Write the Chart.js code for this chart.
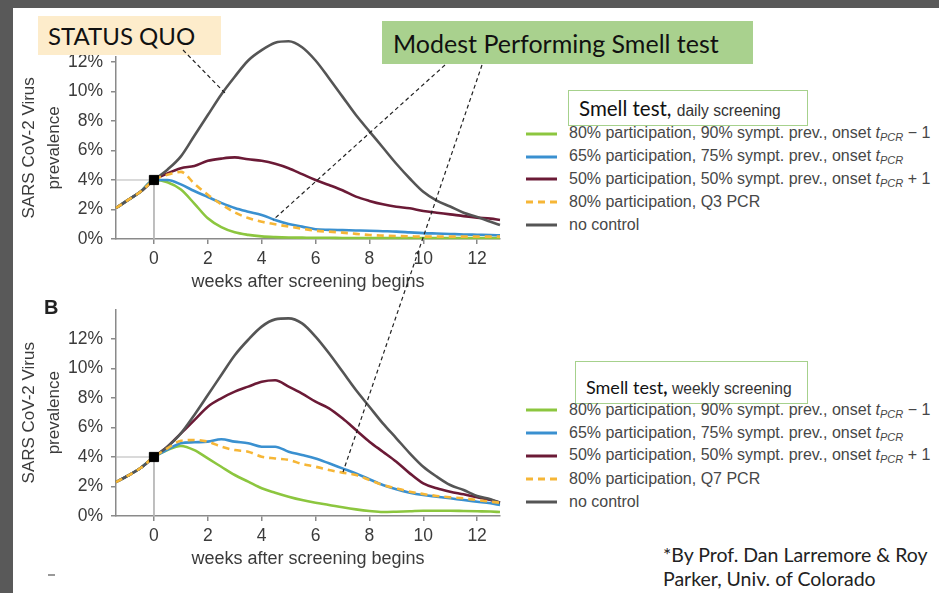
<!DOCTYPE html>
<html>
<head>
<meta charset="utf-8">
<script src="https://cdn.jsdelivr.net/npm/chart.js@4.4.0/dist/chart.umd.min.js"></script>
<style>
  body { margin: 0; width: 939px; height: 593px; position: relative; overflow: hidden; background: #fff; font-family: "Liberation Sans", Arial, sans-serif; }
  .frame { position: absolute; background: #595959; z-index: 20; }
  canvas { position: absolute; left: 0; }
  .box { position: absolute; box-sizing: border-box; display: flex; align-items: center; font-family: Lato, sans-serif; color: #111; z-index: 5; }
  .legend { position: absolute; z-index: 5; color: #474747; font-size: 16px; }
  .legend .row { height: 22.8px; display: flex; align-items: center; white-space: nowrap; }
  .legend svg { margin-right: 12px; flex: none; }
  .legend sub { font-size: 11px; vertical-align: -3px; }
  .smell { font-family: Lato, sans-serif; color: #111; }
  .smell small { font-family: "Liberation Sans", Arial, sans-serif; font-size: 15.6px; color: #333; }
  #notes { position: absolute; left: 0; top: 0; z-index: 10; pointer-events: none; }
</style>
</head>
<body>
<div class="frame" style="left:0;top:0;width:939px;height:8px"></div>
<div class="frame" style="left:0;top:0;width:13px;height:593px"></div>

<canvas id="chartA" width="520" height="300" style="top:0"></canvas>
<canvas id="chartB" width="520" height="300" style="top:277px"></canvas>

<div style="position:absolute;left:44px;top:296px;font-weight:bold;font-size:20px;color:#222">B</div>
<div style="position:absolute;left:48px;top:574px;width:7px;height:2px;background:#999"></div>

<div class="box" style="left:38px;top:16px;width:183px;height:39px;background:#fdeccb;padding-left:10px;font-size:24px">STATUS QUO</div>
<div class="box" style="left:382px;top:21px;width:371px;height:43px;background:#a9d18e;padding-left:11px;font-size:25px">Modest Performing Smell test</div>

<div class="box" style="left:568px;top:90px;width:240px;height:36px;border:1.5px solid #a6d18c;background:#fff;padding-left:10px">
  <span class="smell" style="font-size:20.5px">Smell test, <small>daily screening</small></span></div>
<div class="box" style="left:575px;top:361px;width:233px;height:43px;border:1.5px solid #a6d18c;background:#fff;padding-left:10px;padding-top:8px">
  <span class="smell" style="font-size:18px">Smell test<b>,</b> <small>weekly screening</small></span></div>

<div class="legend" id="legendA" style="left:526px;top:122.5px"></div>
<div class="legend" id="legendB" style="left:526px;top:399px"></div>

<div style="position:absolute;left:663px;top:543px;font-family:Lato,sans-serif;font-size:19.5px;line-height:24px;color:#222">*By Prof. Dan Larremore &amp; Roy<br>Parker, Univ. of Colorado</div>

<svg id="notes" width="939" height="593">
  <g stroke="#222" stroke-width="1.2" stroke-dasharray="4 3" fill="none">
    <line x1="183" y1="50" x2="225" y2="93"/>
    <line x1="445" y1="65" x2="273" y2="220"/>
    <line x1="482" y1="65" x2="343" y2="472"/>
  </g>
</svg>

<script>
// weeks after screening begins
const weeks = [-1.41, -1, -0.5, 0, 0.5, 1, 1.5, 2, 2.5, 3, 3.5, 4, 4.5, 5, 5.5, 6, 6.5, 7, 7.5, 8,
               8.5, 9, 9.5, 10, 10.5, 11, 11.5, 12, 12.5, 12.85];
const xTicks = [0, 2, 4, 6, 8, 10, 12];
const yTicks = [0, 2, 4, 6, 8, 10, 12];
const startPoint = { x: 0, y: 4 };

// A - daily screening (prevalence %)
const dailyGreen  = [2.1, 2.6, 3.2, 4.0, 3.85, 3.35, 2.4, 1.4, 0.8, 0.45, 0.28, 0.18, 0.13, 0.1, 0.09, 0.08, 0.08, 0.07, 0.07, 0.07,
                     0.07, 0.07, 0.07, 0.07, 0.07, 0.07, 0.07, 0.07, 0.07, 0.07];
const dailyBlue   = [2.1, 2.6, 3.2, 4.0, 4.0, 3.7, 3.25, 2.85, 2.45, 2.1, 1.85, 1.63, 1.29, 1.02, 0.84, 0.66, 0.62, 0.6, 0.58, 0.56,
                     0.53, 0.5, 0.45, 0.4, 0.37, 0.34, 0.31, 0.29, 0.27, 0.25];
const dailyMaroon = [2.1, 2.6, 3.2, 4.0, 4.45, 4.8, 4.95, 5.3, 5.45, 5.53, 5.4, 5.3, 5.1, 4.8, 4.4, 4.0, 3.66, 3.3, 2.87, 2.58,
                     2.35, 2.19, 2.08, 1.9, 1.78, 1.67, 1.55, 1.45, 1.38, 1.29];
const dailyQ3     = [2.1, 2.6, 3.2, 4.0, 4.35, 4.55, 3.75, 3.0, 2.35, 1.8, 1.42, 1.17, 1.0, 0.84, 0.7, 0.56, 0.5, 0.43, 0.35, 0.27,
                     0.23, 0.2, 0.18, 0.16, 0.16, 0.16, 0.16, 0.16, 0.16, 0.16];
const dailyNone   = [2.1, 2.6, 3.2, 4.0, 4.7, 5.6, 7.0, 8.4, 9.8, 11.0, 12.1, 12.8, 13.3, 13.4, 13.0, 12.1, 10.9, 9.65, 8.4, 7.3,
                     6.2, 5.1, 4.1, 3.2, 2.6, 2.2, 1.78, 1.5, 1.17, 0.95];

// B - weekly screening (prevalence %)
const weeklyGreen  = [2.3, 2.7, 3.25, 4.0, 4.47, 4.75, 4.47, 3.9, 3.34, 2.78, 2.33, 1.88, 1.58, 1.31, 1.08, 0.9, 0.75, 0.59, 0.45, 0.34,
                      0.27, 0.29, 0.32, 0.36, 0.36, 0.36, 0.34, 0.32, 0.3, 0.27];
const weeklyBlue   = [2.3, 2.7, 3.25, 4.0, 4.5, 4.93, 5.0, 5.04, 5.2, 5.04, 4.93, 4.7, 4.7, 4.36, 4.14, 3.9, 3.57, 3.23, 2.89, 2.49,
                      2.1, 1.81, 1.58, 1.42, 1.31, 1.2, 1.08, 0.97, 0.86, 0.75];
const weeklyMaroon = [2.3, 2.7, 3.25, 4.0, 4.7, 5.6, 6.5, 7.41, 7.98, 8.43, 8.77, 9.1, 9.2, 8.77, 8.3, 7.75, 7.3, 6.62, 5.83, 5.04,
                      4.36, 3.68, 2.89, 2.21, 1.88, 1.65, 1.47, 1.27, 1.08, 0.9];
const weeklyQ7     = [2.3, 2.7, 3.25, 4.0, 4.59, 5.1, 5.15, 5.04, 4.7, 4.47, 4.36, 4.02, 3.9, 3.8, 3.53, 3.34, 3.12, 2.94, 2.78, 2.44,
                      2.1, 1.88, 1.65, 1.49, 1.36, 1.27, 1.2, 1.08, 0.97, 0.9];
const weeklyNone   = [2.3, 2.7, 3.25, 4.0, 4.7, 5.6, 6.85, 8.2, 9.56, 10.9, 11.95, 12.84, 13.33, 13.4, 13.06, 12.16, 11.03, 9.79, 8.54, 7.41,
                      6.28, 5.27, 4.25, 3.34, 2.67, 2.1, 1.76, 1.36, 1.13, 0.9];

const tpcr = '<i>t</i><sub><i>PCR</i></sub>';
const labelsA = [
  '80% participation, 90% sympt. prev., onset ' + tpcr + ' − 1',
  '65% participation, 75% sympt. prev., onset ' + tpcr,
  '50% participation, 50% sympt. prev., onset ' + tpcr + ' + 1',
  '80% participation, Q3 PCR',
  'no control'
];
const labelsB = labelsA.slice();
labelsB[3] = '80% participation, Q7 PCR';

const colors = ['#8cc63f', '#3a90d0', '#6b1a36', '#f6b636', '#555555'];
const dashes = [[], [], [], [7, 5], []];
const drawOrder = [3, 2, 2, 0, 1];

const FONT = 'Liberation Sans';
const TXT = '#3b3b3b';
const AX = '#8a8a8a';

function makeChart(id, series, yMax, padTop) {
  const datasets = series.map((vals, i) => ({
    data: weeks.map((w, j) => ({ x: w, y: vals[j] })),
    borderColor: colors[i],
    borderWidth: 2.6,
    borderDash: dashes[i],
    order: drawOrder[i],
    cubicInterpolationMode: 'monotone',
    pointRadius: 0,
    clip: false
  }));
  // guide lines to the start point
  datasets.push({
    data: [{ x: weeks[0], y: startPoint.y }, startPoint, { x: startPoint.x, y: 0 }],
    borderColor: '#b5b5b5', borderWidth: 1, pointRadius: 0, order: 9
  });
  datasets.push({
    data: [startPoint], showLine: false, pointStyle: 'rect', pointRadius: 6.5,
    backgroundColor: '#000', borderColor: '#000', order: -1
  });

  return new Chart(document.getElementById(id), {
    type: 'line',
    data: { datasets },
    options: {
      responsive: false,
      animation: false,
      layout: { padding: { top: padTop, right: 20, left: 0, bottom: 0 } },
      plugins: { legend: { display: false }, tooltip: { enabled: false } },
      scales: {
        x: {
          type: 'linear', min: weeks[0], max: weeks[weeks.length - 1],
          afterBuildTicks: s => { s.ticks = xTicks.map(v => ({ value: v })); },
          afterFit: s => { s.height = 61; },
          border: { color: AX, width: 1.5 },
          grid: { drawOnChartArea: false, tickLength: 5, color: AX, lineWidth: 1.5 },
          ticks: { padding: 5, color: TXT, font: { family: FONT, size: 17.5 } },
          title: { display: true, text: 'weeks after screening begins', color: TXT,
                   font: { family: FONT, size: 18 }, padding: { top: 0, bottom: 7 } }
        },
        y: {
          min: 0, max: yMax,
          afterBuildTicks: s => { s.ticks = yTicks.map(v => ({ value: v })); },
          afterFit: s => { s.width = 116; },
          border: { color: AX, width: 1.5 },
          grid: { drawOnChartArea: false, tickLength: 5, color: AX, lineWidth: 1.5 },
          ticks: { padding: 8, color: TXT, font: { family: FONT, size: 17.5 }, callback: v => v + '%' },
          title: { display: true, text: ['SARS CoV-2 Virus', 'prevalence'], color: TXT,
                   font: { family: FONT, size: 17, lineHeight: 1.47 }, padding: { top: 17, bottom: 0 } }
        }
      }
    }
  });
}

makeChart('chartA', [dailyGreen, dailyBlue, dailyMaroon, dailyQ3, dailyNone], 12.35, 56.8);
makeChart('chartB', [weeklyGreen, weeklyBlue, weeklyMaroon, weeklyQ7, weeklyNone], 14, 32.5);

function buildLegend(id, labels) {
  const el = document.getElementById(id);
  labels.forEach((lab, i) => {
    const dash = dashes[i].length ? 'stroke-dasharray="' + dashes[i].join(' ') + '"' : '';
    el.insertAdjacentHTML('beforeend',
      '<div class="row"><svg width="31" height="6"><line x1="0" y1="3" x2="31" y2="3" stroke="' + colors[i] +
      '" stroke-width="3" ' + dash + '/></svg><span>' + lab + '</span></div>');
  });
}
buildLegend('legendA', labelsA);
buildLegend('legendB', labelsB);
</script>
</body>
</html>
